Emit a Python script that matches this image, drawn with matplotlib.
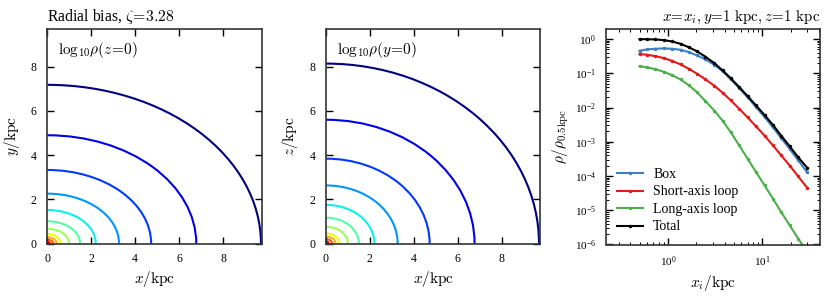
import numpy as np
import matplotlib.pyplot as plt
from matplotlib.patches import Arc

plt.rcParams.update({
    'font.family': 'Liberation Serif',
    'mathtext.fontset': 'cm',
    'axes.formatter.use_mathtext': True,
    'axes.unicode_minus': False,
    'axes.edgecolor': '#333333',
    'axes.linewidth': 1.2,
})

# contour intercepts (kpc), outermost first
cont_x = [9.71, 6.77, 4.72, 3.26, 2.20, 1.49, 0.99, 0.60, 0.43, 0.27, 0.12]
cont_y_z0 = [7.18, 4.90, 3.33, 2.26, 1.52, 1.01, 0.67, 0.43, 0.29, 0.18, 0.08]
cont_z_y0 = [8.14, 5.60, 3.84, 2.63, 1.75, 1.17, 0.76, 0.46, 0.32, 0.20, 0.09]

# density profiles along x = x_i, y = 1 kpc, z = 1 kpc
x_i = [0.5, 0.6, 0.73, 0.9, 1.1, 1.36, 1.66, 2.04, 2.5, 3.1, 3.8, 4.65, 5.7,
       7.0, 8.6, 10.6, 13.0, 15.9, 19.6, 24.1, 30.0]
rho_box = [0.456, 0.499, 0.522, 0.534, 0.522, 0.488, 0.417, 0.333, 0.255,
           0.178, 0.114, 0.0664, 0.037, 0.0198, 0.0103, 5.27e-3, 2.63e-3,
           1.28e-3, 6.1e-4, 2.86e-4, 1.27e-4]
rho_short = [0.365, 0.349, 0.319, 0.279, 0.233, 0.182, 0.136, 0.097, 0.0664,
             0.0434, 0.0271, 0.0162, 9.2e-3, 5.15e-3, 2.81e-3, 1.50e-3,
             7.8e-4, 4.0e-4, 2.0e-4, 9.7e-5, 4.5e-5]
rho_long = [0.163, 0.149, 0.133, 0.111, 0.0888, 0.0664, 0.0453, 0.0277,
            0.0154, 8.2e-3, 4.1e-3, 1.88e-3, 7.8e-4, 3.2e-4, 1.30e-4, 5.3e-5,
            2.17e-5, 8.8e-6, 3.6e-6, 1.47e-6, 6.0e-7]
rho_total = [1.0, 0.99, 0.98, 0.935, 0.855, 0.73, 0.58, 0.436, 0.305, 0.199,
             0.122, 0.071, 0.0396, 0.0216, 0.0115, 6.0e-3, 3.1e-3, 1.5e-3,
             7.3e-4, 3.5e-4, 1.74e-4]

colors = plt.cm.jet(np.linspace(0.0, 0.9, len(cont_x)))

fig = plt.figure(figsize=(8.3, 3.0), dpi=100)
ax1 = fig.add_axes([0.057, 0.188, 0.259, 0.715])
ax2 = fig.add_axes([0.393, 0.188, 0.258, 0.715])
ax3 = fig.add_axes([0.730, 0.185, 0.258, 0.718])


def contour_panel(ax, xs, ys, label, ylabel):
    for a, b, c in zip(xs, ys, colors):
        ax.add_patch(Arc((0, 0), 2 * a, 2 * b, theta1=0, theta2=90,
                         color=c, lw=1.5))
    ax.set_xlim(0, 9.77)
    ax.set_ylim(0, 9.7)
    ax.set_xticks([0, 2, 4, 6, 8])
    ax.set_yticks([0, 2, 4, 6, 8])
    ax.tick_params(direction='in', top=True, right=True, length=5,
                   width=1.0, labelsize=8.5, pad=7)
    ax.set_xlabel(r'$x/\mathrm{kpc}$', fontsize=11, labelpad=3)
    ax.set_ylabel(ylabel, fontsize=11, labelpad=6)
    ax.text(0.05, 0.95, label, transform=ax.transAxes, fontsize=11,
            va='top', ha='left')


contour_panel(ax1, cont_x, cont_y_z0, r'$\mathrm{log}_{10}\rho(z\!=\!0)$',
              r'$y/\mathrm{kpc}$')
contour_panel(ax2, cont_x, cont_z_y0, r'$\mathrm{log}_{10}\rho(y\!=\!0)$',
              r'$z/\mathrm{kpc}$')
ax1.set_title(r'Radial bias, $\zeta\!=\!3.28$', loc='left', fontsize=11.3,
              pad=6)

series = [(rho_box, '#3d7fc0', 'Box'),
          (rho_short, '#e31a1c', 'Short-axis loop'),
          (rho_long, '#4daf4a', 'Long-axis loop'),
          (rho_total, 'black', 'Total')]
for vals, c, lab in series:
    ax3.plot(x_i, vals, color=c, lw=1.5, marker='.', ms=3, label=lab)
ax3.set_xscale('log')
ax3.set_yscale('log')
ax3.set_xlim(0.22, 41)
ax3.set_ylim(1e-6, 1.96)
ax3.tick_params(which='both', direction='in', top=True, right=True,
                labelsize=8)
ax3.tick_params(which='major', length=5, width=1.0, pad=7)
ax3.tick_params(which='minor', length=2.5, width=0.7)
ax3.set_xlabel(r'$x_i/\mathrm{kpc}$', fontsize=11, labelpad=3)
ax3.set_ylabel(r'$\rho/\rho_{0.5\mathrm{kpc}}$', fontsize=11, labelpad=3)
ax3.set_title(r'$x\!=\!x_i,y\!=\!1\ \mathrm{kpc},z\!=\!1\ \mathrm{kpc}$',
              loc='right', fontsize=10.8, pad=6)
ax3.legend(loc='lower left', frameon=False, fontsize=10, handlelength=1.9,
           labelspacing=0.32, borderaxespad=0.4, handletextpad=0.7)

fig.savefig('out.png', dpi=100)
